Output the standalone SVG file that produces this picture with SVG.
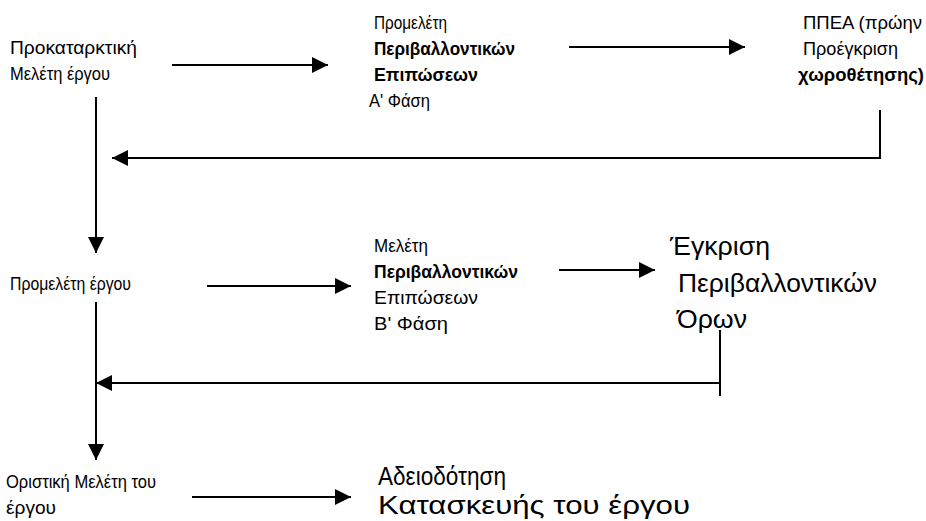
<svg xmlns="http://www.w3.org/2000/svg" width="926" height="521" viewBox="0 0 926 521">
<defs>
<marker id="ah" markerUnits="userSpaceOnUse" markerWidth="16" markerHeight="16" viewBox="0 0 16 16" refX="16" refY="8" orient="auto">
<path d="M0,0 L16,8 L0,16 Z" fill="#000"/>
</marker>
<style>
text{font-family:"Liberation Sans",Arial,sans-serif;fill:#000}
.s{font-size:19px}
.l{font-size:25px}
.b{font-weight:bold}
.c{fill:none;stroke:#000;stroke-width:2}
.a{marker-end:url(#ah)}
</style>
</defs>
<rect width="926" height="521" fill="#fff"/>
<g id="connectors">
<line class="c a" x1="172" y1="65" x2="328" y2="65"/>
<line class="c a" x1="569" y1="47" x2="745" y2="47"/>
<polyline class="c a" points="880,110 880,158 112,158"/>
<line class="c a" x1="96" y1="97" x2="96" y2="253"/>
<line class="c a" x1="207" y1="286" x2="351" y2="286"/>
<line class="c a" x1="559" y1="270" x2="655" y2="270"/>
<line class="c" x1="720" y1="330" x2="720" y2="396"/>
<line class="c a" x1="720" y1="383" x2="96" y2="383"/>
<line class="c a" x1="96" y1="302" x2="96" y2="460"/>
<line class="c a" x1="192" y1="497" x2="351" y2="497"/>
</g>
<g id="n1">
<text class="s" x="10" y="54" textLength="127" lengthAdjust="spacingAndGlyphs">Προκαταρκτική</text>
<text class="s" x="10" y="80" textLength="100" lengthAdjust="spacingAndGlyphs">Μελέτη έργου</text>
</g>
<g id="n2">
<text class="s" x="374" y="29" textLength="73" lengthAdjust="spacingAndGlyphs">Προμελέτη</text>
<text class="s b" x="374" y="55" textLength="141" lengthAdjust="spacingAndGlyphs">Περιβαλλοντικών</text>
<text class="s b" x="374" y="81" textLength="104" lengthAdjust="spacingAndGlyphs">Επιπώσεων</text>
<text class="s" x="369" y="107" textLength="61" lengthAdjust="spacingAndGlyphs">Α' Φάση</text>
</g>
<g id="n3">
<text class="s" x="803" y="29" textLength="119" lengthAdjust="spacingAndGlyphs">ΠΠΕΑ (πρώην</text>
<text class="s" x="803" y="55" textLength="95" lengthAdjust="spacingAndGlyphs">Προέγκριση</text>
<text class="s b" x="798" y="81" textLength="126" lengthAdjust="spacingAndGlyphs">χωροθέτησης)</text>
</g>
<g id="n4">
<text class="s" x="10" y="290" textLength="121" lengthAdjust="spacingAndGlyphs">Προμελέτη έργου</text>
</g>
<g id="n5">
<text class="s" x="374" y="252" textLength="54" lengthAdjust="spacingAndGlyphs">Μελέτη</text>
<text class="s b" x="374" y="278" textLength="144" lengthAdjust="spacingAndGlyphs">Περιβαλλοντικών</text>
<text class="s" x="374" y="304" textLength="104" lengthAdjust="spacingAndGlyphs">Επιπώσεων</text>
<text class="s" x="374" y="330" textLength="74" lengthAdjust="spacingAndGlyphs">Β' Φάση</text>
</g>
<g id="n6">
<text class="l" x="670" y="255" textLength="100" lengthAdjust="spacingAndGlyphs">Έγκριση</text>
<text class="l" x="678" y="292" textLength="199" lengthAdjust="spacingAndGlyphs">Περιβαλλοντικών</text>
<text class="l" x="677" y="328" textLength="70" lengthAdjust="spacingAndGlyphs">Όρων</text>
</g>
<g id="n7">
<text class="s" x="6" y="488" textLength="150" lengthAdjust="spacingAndGlyphs">Οριστική Μελέτη του</text>
<text class="s" x="6" y="514" textLength="50" lengthAdjust="spacingAndGlyphs">έργου</text>
</g>
<g id="n8">
<text class="l" x="378" y="485" textLength="128" lengthAdjust="spacingAndGlyphs">Αδειοδότηση</text>
<text class="l" x="378" y="514" textLength="312" lengthAdjust="spacingAndGlyphs">Κατασκευής του έργου</text>
</g>
</svg>
